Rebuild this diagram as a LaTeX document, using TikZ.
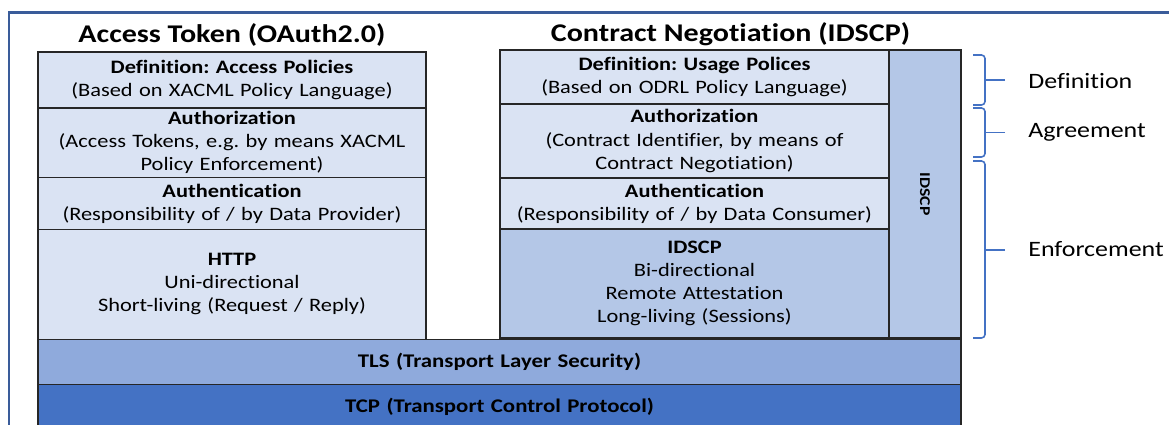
\documentclass[tikz,border=0pt]{standalone}
\usepackage{fontspec}
\setmainfont{Carlito}[FakeStretch=1.18,Ligatures=NoCommon]
\usetikzlibrary{calc,positioning}
\definecolor{lyrlight}{HTML}{DAE3F3}
\definecolor{lyrmid}{HTML}{B4C7E7}
\definecolor{lyrtls}{HTML}{8FAADC}
\definecolor{lyrtcp}{HTML}{4472C4}
\definecolor{lyrframe}{HTML}{3A5C9A}
\definecolor{lyrbrace}{HTML}{4472C4}
\frenchspacing

\begin{document}
\begin{tikzpicture}[
    node distance=0pt,
    layer/.style={draw=black!85,line width=0.8pt,fill=lyrlight,outer sep=0pt,
      inner xsep=0pt,inner ysep=2pt,align=center,
      font=\fontsize{10.8}{13.1}\selectfont},
    leftcol/.style={layer,text width=7.76cm,minimum width=7.76cm},
    rightcol/.style={layer,text width=7.78cm,minimum width=7.78cm},
    base/.style={layer,text width=18.46cm,minimum width=18.46cm,minimum height=9mm,
      font=\fontsize{11}{13.1}\selectfont\bfseries},
    heading/.style={inner sep=0pt,anchor=base,font=\fontsize{14.5}{17}\selectfont\bfseries},
    brc/.style={draw=lyrbrace,line width=0.9pt,rounded corners=2pt},
    side/.style={anchor=west,inner sep=0pt,font=\fontsize{12.5}{15}\selectfont}
  ]
    \useasboundingbox (0,0) rectangle (23.38,8.5);
    % frame lines
    \draw[lyrframe,line width=1.4pt] (0.18,-0.1) -- (0.18,8.25) -- (23.5,8.25);

    % access token stack
    \node[leftcol,minimum height=1.12cm,anchor=north west] (defA) at (0.76,7.46)
      {\textbf{Definition: Access Policies}\\(Based on XACML Policy Language)};
    \node[leftcol,minimum height=1.36cm,below=of defA] (authzA)
      {\textbf{Authorization}\\(Access Tokens, e.g. by means XACML\\Policy Enforcement)};
    \node[leftcol,minimum height=1.04cm,below=of authzA] (authnA)
      {\textbf{Authentication}\\(Responsibility of / by Data Provider)};
    \node[leftcol,minimum height=2.2cm,below=of authnA] (http)
      {\textbf{HTTP}\\Uni-directional\\Short-living (Request / Reply)};
    \node[heading] (titleA) at ($(defA.north)+(0,0.19)$) {Access Token (OAuth2.0)};

    % contract negotiation stack
    \node[rightcol,minimum height=1.08cm,anchor=north west] (defB) at (10.0,7.5)
      {\textbf{Definition: Usage Polices}\\(Based on ODRL Policy Language)};
    \node[rightcol,minimum height=1.48cm,below=of defB] (authzB)
      {\textbf{Authorization}\\(Contract Identifier, by means of\\Contract Negotiation)};
    \node[rightcol,minimum height=1.02cm,below=of authzB] (authnB)
      {\textbf{Authentication}\\(Responsibility of / by Data Consumer)};
    \node[rightcol,minimum height=2.18cm,fill=lyrmid,below=of authnB] (idscp)
      {\textbf{IDSCP}\\Bi-directional\\Remote Attestation\\Long-living (Sessions)};
    \node[layer,fill=lyrmid,minimum width=1.44cm,minimum height=5.76cm,
      anchor=north west] (bar) at (defB.north east) {};
    \node[font=\fontsize{8.5}{10}\selectfont\bfseries,rotate=-90] (barlbl) at (bar.center) {IDSCP};
    \node[heading] (titleB) at ($(defB.north west)!0.5!(bar.north east)+(0,0.17)$)
      {Contract Negotiation (IDSCP)};

    % transport layers
    \node[base,fill=lyrtls,anchor=north west] (tls) at (http.south west)
      {TLS (Transport Layer Security)};
    \node[base,fill=lyrtcp,below=of tls] (tcp) {TCP (Transport Control Protocol)};

    % brackets on the right
    \coordinate (defT) at (19.46,7.40);
    \coordinate (defE) at (19.46,6.40);
    \coordinate (defM) at (20.10,6.90);
    \coordinate (agrT) at (19.46,6.34);
    \coordinate (agrE) at (19.46,5.36);
    \coordinate (agrM) at (20.10,5.85);
    \coordinate (enfT) at (19.46,5.28);
    \coordinate (enfE) at (19.46,1.74);
    \coordinate (enfM) at (20.10,3.50);
    \draw[brc] (defT) -- ++(0.24,0) |- (defE);
    \draw[brc] (defM) -- ++(-0.4,0);
    \draw[brc] (agrT) -- ++(0.24,0) |- (agrE);
    \draw[brc] (agrM) -- ++(-0.4,0);
    \draw[brc] (enfT) -- ++(0.24,0) |- (enfE);
    \draw[brc] (enfM) -- ++(-0.4,0);
    \node[side] (lblDef) at (20.56,6.88) {Definition};
    \node[side] (lblAgr) at (20.56,5.86) {Agreement};
    \node[side] (lblEnf) at (20.56,3.52) {Enforcement};
  \end{tikzpicture}
\end{document}
